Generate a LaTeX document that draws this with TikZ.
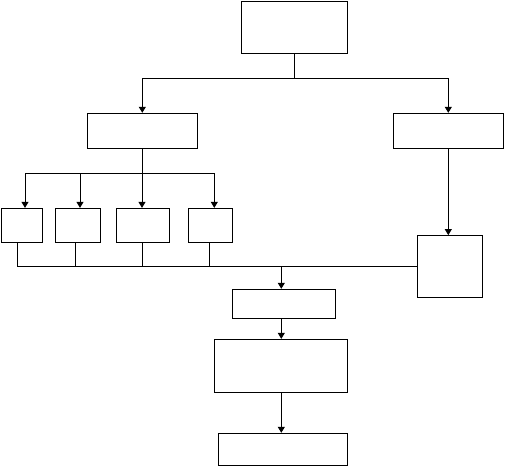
\documentclass[tikz,border=0pt]{standalone}
\usepackage{tikz}
\usetikzlibrary{arrows.meta,positioning}
\tikzset{
  blk/.style={draw=black, line width=1pt, inner sep=0pt},
  wire/.style={draw=black, line width=1pt},
  arr/.style={wire, -{Triangle[width=7pt,length=6pt]}},
}

\begin{document}
\begin{tikzpicture}[x=1pt, y=-1pt]
  \useasboundingbox (0,0) rectangle (505,467);

  % Top level
  \node[blk, minimum width=106pt, minimum height=52pt] (top) at (294.3,27) {};

  % Second level
  \node[blk, minimum width=110pt, minimum height=35pt] (lbox) at (142.3,130.8) {};
  \node[blk, minimum width=110pt, minimum height=35pt] (rbox) at (448.3,130.8) {};
  \draw[arr] (top.south) -- ++(0,25) -| (lbox.north);
  \draw[arr] (top.south) -- ++(0,25) -| (rbox.north);

  % Small boxes
  \node[blk, minimum width=40.6pt, minimum height=33.7pt] (s1) at (22,225.2) {};
  \node[blk, minimum width=45.4pt, minimum height=33.7pt] (s2) at (78,225.2) {};
  \node[blk, minimum width=53pt, minimum height=33.7pt] (s3) at (142.8,225.2) {};
  \node[blk, minimum width=44pt, minimum height=33.7pt] (s4) at (210.3,225.2) {};
  \foreach \b/\dx in {s1/3, s2/2, s3/-0.8, s4/4} {
    \draw[arr] (lbox.south) -- ++(0,25) -| ([xshift=\dx pt]\b.north);
  }

  % Right branch
  \node[blk, minimum width=65pt, minimum height=62pt] (tall) at (449.8,266.6) {};
  \draw[arr] (rbox.south) -- (rbox.south |- tall.north);

  % Collecting line
  \draw[wire] ([xshift=-4.7pt]s1.south) |- (tall.west);
  \foreach \b/\dx in {s2/-2.7, s3/-0.1, s4/-1} {
    \draw[wire] ([xshift=\dx pt]\b.south) -- ([xshift=\dx pt]\b.south |- tall.west);
  }
  \coordinate (join) at (281.3,0);

  % Lower chain
  \node[blk, minimum width=103pt, minimum height=29pt] (ma) at (283.8,303.8) {};
  \node[blk, minimum width=133pt, minimum height=52.7pt] (mb) at (280.8,365.7) {};
  \node[blk, minimum width=129pt, minimum height=32pt] (mc) at (282.8,449.3) {};
  \draw[arr] (join |- tall.west) -- (join |- ma.north);
  \draw[arr] (join |- ma.south) -- (join |- mb.north);
  \draw[arr] (join |- mb.south) -- (join |- mc.north);
\end{tikzpicture}
\end{document}
